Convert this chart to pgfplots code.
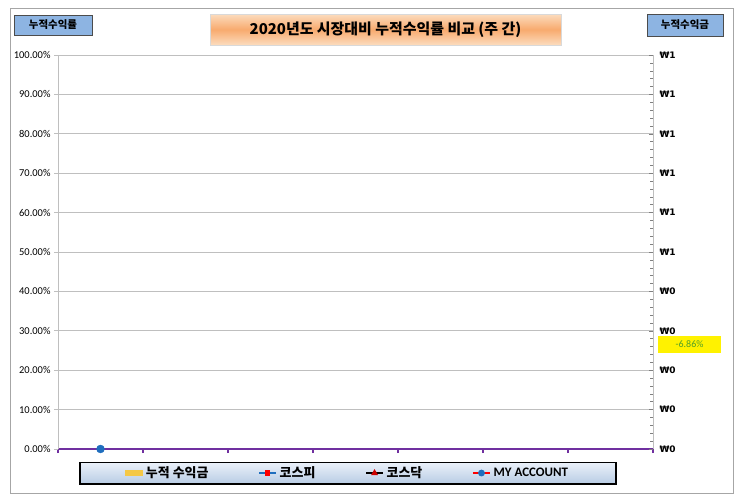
\documentclass[border=0pt]{standalone}
\usepackage{fontspec}
\setmainfont{Carlito}
\newfontfamily\cjk{Noto Sans CJK KR}
\newfontfamily\wonfont{DejaVu Sans}
\usepackage{pgfplots}
\pgfplotsset{compat=1.18}

\definecolor{gridgray}{RGB}{191,191,191}
\definecolor{acctpurple}{RGB}{112,48,160}
\definecolor{acctblue}{RGB}{31,110,190}
\definecolor{boxblue}{RGB}{141,180,226}
\definecolor{baryellow}{RGB}{245,200,70}
\definecolor{peach}{RGB}{252,220,190}
\definecolor{orangemid}{RGB}{248,170,110}
\definecolor{legtop}{RGB}{235,241,250}
\definecolor{legbot}{RGB}{184,204,228}
\definecolor{valgreen}{RGB}{80,160,40}

\begin{document}
\begin{tikzpicture}
\useasboundingbox (0,0) rectangle (740bp,-502bp);
% outer frame
\draw[gray!70, line width=0.8pt] (10bp,-8bp) rectangle (733bp,-493bp);

% left axis: return rate
\begin{axis}[
    at={(58bp,-449bp)}, anchor=south west,
    scale only axis, width=595bp, height=394bp,
    xmin=0, xmax=7, ymin=0, ymax=100,
    xtick={0,...,7}, xticklabels={},
    ytick={0,10,...,100},
    yticklabel={\pgfmathprintnumber[fixed,fixed zerofill,precision=2]{\tick}\%},
    axis x line*=bottom, axis y line*=left,
    x axis line style={acctpurple, line width=2.2pt, -},
    y axis line style={gridgray, line width=0.8pt, -},
    ymajorgrids, grid style={gridgray, line width=0.8pt},
    tick align=outside, major tick length=4bp,
    y tick style={gridgray, line width=0.8pt},
    x tick style={acctpurple, line width=1.2pt},
    tick label style={font=\fontsize{10.5}{12}\selectfont},
    /pgf/number format/assume math mode=true,
    legend columns=4,
    legend style={
        at={(0.4874,-0.061)}, anchor=center,
        draw=black, line width=1.6pt,
        top color=legtop, bottom color=legbot,
        font=\cjk\bfseries\fontsize{13}{14}\selectfont,
        inner xsep=46bp, inner ysep=2.5bp,
        /tikz/every odd column/.append style={column sep=1bp},
        /tikz/every even column/.append style={column sep=48bp},
    },
    legend cell align=left,
]
\addlegendimage{area legend, fill=baryellow, draw=baryellow, line width=0pt}
\addlegendentry{누적 수익금}
\addlegendimage{color=acctblue, line width=1.2pt, mark=square*, mark size=2.2pt, mark options={fill=red, draw=red}}
\addlegendentry{코스피}
\addlegendimage{color=black, line width=1.2pt, mark=triangle*, mark size=2.8pt, mark options={fill=red!80!black, draw=red!80!black}}
\addlegendentry{코스닥}
\addlegendimage{color=red, line width=1.2pt, mark=*, mark size=2.8pt, mark options={fill=acctblue, draw=acctblue}}
\addlegendentry{\normalfont\bfseries MY ACCOUNT}
\addplot[only marks, mark=*, mark size=4pt, color=acctblue, forget plot]
    coordinates {(0.5,0)};
\end{axis}

% right axis: cumulative amount
\begin{axis}[
    at={(58bp,-449bp)}, anchor=south west,
    scale only axis, width=595bp, height=394bp,
    xmin=0, xmax=7, ymin=0, ymax=1,
    axis x line=none, axis y line*=right,
    y axis line style={gridgray, line width=0.8pt, -},
    ytick={0,0.1,...,1.01},
    yticklabels={₩0,₩0,₩0,₩0,₩0,₩1,₩1,₩1,₩1,₩1,₩1},
    minor y tick num=4,
    tick align=inside, major tick length=4bp, minor tick length=3bp,
    y tick style={gray, line width=0.5pt},
    yticklabel style={font=\wonfont\bfseries\fontsize{9}{11}\selectfont, xshift=3bp},
]
\end{axis}

% text boxes
\node[draw=black!70, fill=boxblue, line width=0.8pt, minimum width=78bp, minimum height=20bp,
      font=\cjk\bfseries\fontsize{10.5}{12}\selectfont, inner sep=0pt]
    at (53bp,-25bp) {누적수익률};
\node[draw=black!70, fill=boxblue, line width=0.8pt, minimum width=76bp, minimum height=22bp,
      font=\cjk\bfseries\fontsize{10.5}{12}\selectfont, inner sep=0pt]
    at (685bp,-25bp) {누적수익금};
\node[draw=gray!30, top color=peach, bottom color=peach, middle color=orangemid,
      minimum width=351bp, minimum height=31bp, inner sep=0pt,
      font=\cjk\bfseries\fontsize{15}{17}\selectfont]
    at (385.5bp,-29.5bp) {2020년도 시장대비 누적수익률 비교 (주 간)};
\node[fill=yellow, minimum width=63bp, minimum height=17bp, inner sep=0pt,
      text=valgreen, font=\fontsize{10}{12}\selectfont]
    at (689.5bp,-344.5bp) {-6.86\%};
\end{tikzpicture}
\end{document}
